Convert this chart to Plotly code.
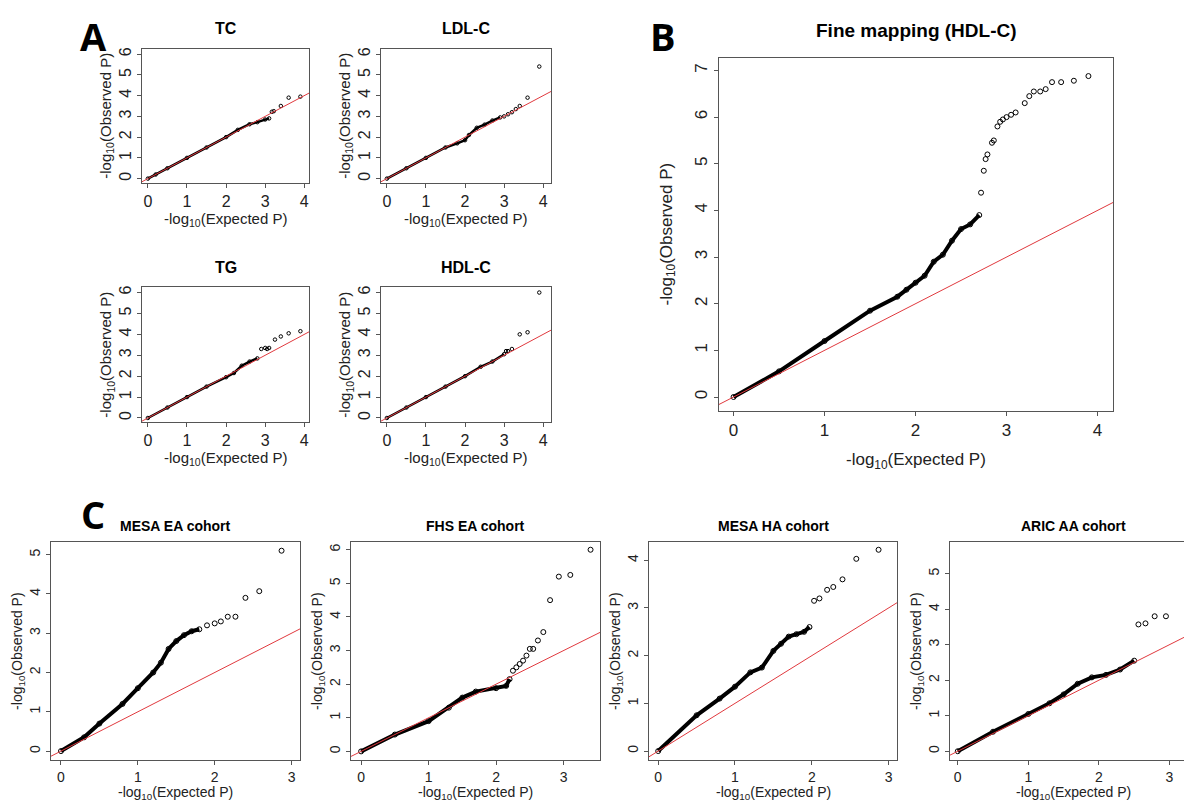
import plotly.graph_objects as go

# ---- data ----
tc_x = [0, 0.2, 0.5, 1.0, 1.5, 2.0, 2.3, 2.6, 2.8, 3.0, 3.1]
tc_y = [0, 0.2, 0.5, 1.0, 1.5, 2.0, 2.35, 2.62, 2.72, 2.85, 2.9]
tc_tx = [3.17, 3.22, 3.4, 3.6, 3.9]
tc_ty = [3.22, 3.25, 3.5, 3.9, 3.95]

ldl_x = [0, 0.5, 1.0, 1.5, 1.8, 2.0, 2.1, 2.3, 2.5, 2.7, 2.9]
ldl_y = [0, 0.5, 1.0, 1.5, 1.7, 1.85, 2.1, 2.45, 2.6, 2.8, 2.95]
ldl_tx = [3.0, 3.1, 3.2, 3.3, 3.4, 3.6, 3.9]
ldl_ty = [3.0, 3.1, 3.2, 3.35, 3.5, 3.9, 5.4]

tg_x = [0, 0.5, 1.0, 1.5, 2.0, 2.2, 2.4, 2.6, 2.8]
tg_y = [0, 0.5, 1.0, 1.5, 1.95, 2.15, 2.5, 2.7, 2.85]
tg_tx = [2.9, 3.0, 3.05, 3.1, 3.25, 3.4, 3.6, 3.9]
tg_ty = [3.3, 3.35, 3.3, 3.35, 3.75, 3.9, 4.05, 4.15]

hdl_x = [0, 0.5, 1.0, 1.5, 2.0, 2.4, 2.7, 3.0]
hdl_y = [0, 0.5, 1.0, 1.5, 2.0, 2.45, 2.7, 3.05]
hdl_tx = [3.05, 3.1, 3.2, 3.4, 3.6, 3.9]
hdl_ty = [3.2, 3.2, 3.3, 4.0, 4.1, 6.0]

fm_x = [0, 0.5, 1.0, 1.5, 1.8, 1.9, 2.0, 2.1, 2.2, 2.3, 2.4, 2.5, 2.6, 2.7]
fm_y = [0, 0.55, 1.2, 1.85, 2.15, 2.3, 2.45, 2.6, 2.9, 3.05, 3.35, 3.6, 3.7, 3.9]
fm_tx = [2.72, 2.75, 2.77, 2.79, 2.84, 2.86, 2.9, 2.93, 2.96, 3.0, 3.05, 3.1, 3.2, 3.25,
         3.3, 3.37, 3.43, 3.5, 3.6, 3.74, 3.9]
fm_ty = [4.38, 4.85, 5.1, 5.2, 5.45, 5.5, 5.8, 5.9, 5.95, 6.0, 6.05, 6.1, 6.3, 6.45,
         6.55, 6.55, 6.6, 6.75, 6.75, 6.78, 6.88]

mea_x = [0, 0.3, 0.5, 0.8, 1.0, 1.2, 1.3, 1.4, 1.5, 1.6, 1.7, 1.8]
mea_y = [0, 0.35, 0.7, 1.2, 1.6, 2.0, 2.25, 2.6, 2.8, 2.95, 3.05, 3.1]
mea_tx = [1.9, 2.0, 2.08, 2.17, 2.27, 2.4, 2.58, 2.87]
mea_ty = [3.2, 3.25, 3.3, 3.42, 3.42, 3.9, 4.07, 5.1]

fhs_x = [0, 0.5, 1.0, 1.3, 1.5, 1.7, 2.0, 2.15, 2.2]
fhs_y = [0, 0.5, 0.9, 1.3, 1.6, 1.78, 1.88, 1.95, 2.15]
fhs_tx = [2.25, 2.3, 2.35, 2.4, 2.45, 2.5, 2.55, 2.62, 2.7, 2.8, 2.93, 3.1, 3.4]
fhs_ty = [2.4, 2.5, 2.6, 2.7, 2.85, 3.05, 3.05, 3.3, 3.55, 4.5, 5.2, 5.25, 6.0]

mha_x = [0, 0.5, 0.8, 1.0, 1.2, 1.35, 1.5, 1.6, 1.7, 1.8, 1.9, 1.97]
mha_y = [0, 0.75, 1.1, 1.35, 1.65, 1.75, 2.1, 2.25, 2.4, 2.45, 2.5, 2.6]
mha_tx = [2.03, 2.1, 2.2, 2.28, 2.4, 2.58, 2.87]
mha_ty = [3.15, 3.2, 3.38, 3.44, 3.6, 4.03, 4.22]

aa_x = [0, 0.5, 1.0, 1.3, 1.5, 1.7, 1.9, 2.1, 2.3, 2.5]
aa_y = [0, 0.55, 1.05, 1.35, 1.6, 1.9, 2.08, 2.15, 2.3, 2.55]
aa_tx = [2.56, 2.66, 2.79, 2.95, 3.25]
aa_ty = [3.57, 3.6, 3.8, 3.8, 5.68]

W, H = 1192, 800
FONT = "Liberation Sans"

panels = [
    ("TC", tc_x, tc_y, tc_tx, tc_ty, (134, 301, 39, 173), [-0.15, 4.12], [-0.19, 6.25], [0, 1, 2, 3, 4], [0, 1, 2, 3, 4, 5, 6], 16, 15, 16, 20, 37, 35, 3.5, 2.5),
    ("LDL-C", ldl_x, ldl_y, ldl_tx, ldl_ty, (373, 543, 39, 173), [-0.15, 4.2], [-0.19, 6.25], [0, 1, 2, 3, 4], [0, 1, 2, 3, 4, 5, 6], 16, 15, 16, 20, 37, 35, 3.5, 2.5),
    ("TG", tg_x, tg_y, tg_tx, tg_ty, (134, 301, 278, 413), [-0.15, 4.12], [-0.19, 6.25], [0, 1, 2, 3, 4], [0, 1, 2, 3, 4, 5, 6], 16, 15, 16, 20, 37, 35, 3.5, 2.5),
    ("HDL-C", hdl_x, hdl_y, hdl_tx, hdl_ty, (373, 543, 278, 413), [-0.15, 4.2], [-0.19, 6.25], [0, 1, 2, 3, 4], [0, 1, 2, 3, 4, 5, 6], 16, 15, 16, 20, 37, 35, 3.5, 2.5),
    ("Fine mapping (HDL-C)", fm_x, fm_y, fm_tx, fm_ty, (711, 1105, 48, 402), [-0.16, 4.17], [-0.3, 7.27], [0, 1, 2, 3, 4], [0, 1, 2, 3, 4, 5, 6, 7], 17, 17, 19, 27, 50, 51, 5, 4),
    ("MESA EA cohort", mea_x, mea_y, mea_tx, mea_ty, (43, 292, 533, 752), [-0.13, 3.11], [-0.23, 5.33], [0, 1, 2, 3], [0, 1, 2, 3, 4, 5], 14, 14, 14, 16, 33, 33, 5, 4),
    ("FHS EA cohort", fhs_x, fhs_y, fhs_tx, fhs_ty, (343, 592, 533, 752), [-0.15, 3.54], [-0.26, 6.24], [0, 1, 2, 3], [0, 1, 2, 3, 4, 5, 6], 14, 14, 14, 16, 33, 33, 5, 4),
    ("MESA HA cohort", mha_x, mha_y, mha_tx, mha_ty, (641, 889, 533, 752), [-0.12, 3.11], [-0.19, 4.39], [0, 1, 2, 3], [0, 1, 2, 3, 4], 14, 14, 14, 16, 33, 33, 5, 4),
    ("ARIC AA cohort", aa_x, aa_y, aa_tx, aa_ty, (942, 1189, 533, 752), [-0.11, 3.39], [-0.25, 5.9], [0, 1, 2, 3], [0, 1, 2, 3, 4, 5], 14, 14, 14, 16, 33, 33, 5, 4),
]

fig = go.Figure()
annotations = []
layout = {}
for i, (title, dx, dy, tx, ty, box, xr, yr, xt, yt, fs, afs, tfs, toff, xoff, yoff, ms, dw) in enumerate(panels):
    n = "" if i == 0 else str(i + 1)
    xa, ya = "x" + n, "y" + n
    l, r, t, b = box
    fig.add_trace(go.Scatter(x=dx, y=dy, xaxis=xa, yaxis=ya, mode="lines+markers",
                             line=dict(color="black", width=dw),
                             marker=dict(symbol="circle-open", size=ms, color="black", line=dict(width=1)),
                             showlegend=False, hoverinfo="skip"))
    fig.add_trace(go.Scatter(x=tx, y=ty, xaxis=xa, yaxis=ya, mode="markers",
                             marker=dict(symbol="circle-open", size=ms, color="black", line=dict(width=1)),
                             showlegend=False, hoverinfo="skip"))
    fig.add_trace(go.Scatter(x=[-1, 10], y=[-1, 10], xaxis=xa, yaxis=ya, mode="lines",
                             line=dict(color="#e0393e", width=1), showlegend=False, hoverinfo="skip"))
    common = dict(showgrid=False, zeroline=False, showline=True, mirror=True, linecolor="#555",
                  linewidth=1, ticks="outside", ticklen=4, tickcolor="#555",
                  tickfont=dict(family=FONT, size=fs, color="#222"))
    layout["xaxis" + n] = dict(common, domain=[l / W, r / W], range=xr, tickvals=xt, anchor=ya)
    layout["yaxis" + n] = dict(common, domain=[1 - b / H, 1 - t / H], range=yr, tickvals=yt,
                               anchor=xa, tickangle=-90)
    annotations.append(dict(text="-log<sub>10</sub>(Expected P)", x=(l + r) / 2 / W, y=1 - (b + xoff) / H,
                            xref="paper", yref="paper", showarrow=False, xanchor="center", yanchor="middle",
                            font=dict(family=FONT, size=afs, color="#222")))
    annotations.append(dict(text="-log<sub>10</sub>(Observed P)", x=(l - yoff) / W, y=1 - (t + b) / 2 / H,
                            xref="paper", yref="paper", showarrow=False, xanchor="center", yanchor="middle",
                            textangle=-90, font=dict(family=FONT, size=afs, color="#222")))
    annotations.append(dict(text="<b>%s</b>" % title, x=(l + r) / 2 / W, y=1 - (t - toff) / H,
                            xref="paper", yref="paper", showarrow=False, xanchor="center", yanchor="middle",
                            font=dict(family=FONT, size=tfs, color="black")))

for lab, x, y in [("A", 85, 26), ("B", 655, 26), ("C", 85, 505)]:
    annotations.append(dict(text="<b>%s</b>" % lab, x=x / W, y=1 - y / H, xref="paper", yref="paper",
                            showarrow=False, xanchor="center", yanchor="middle",
                            font=dict(family="Open Sans", size=38, color="black")))

fig.update_layout(width=W, height=H, margin=dict(l=0, r=0, t=0, b=0),
                  paper_bgcolor="white", plot_bgcolor="white", annotations=annotations, **layout)
fig.write_html("out.html")
